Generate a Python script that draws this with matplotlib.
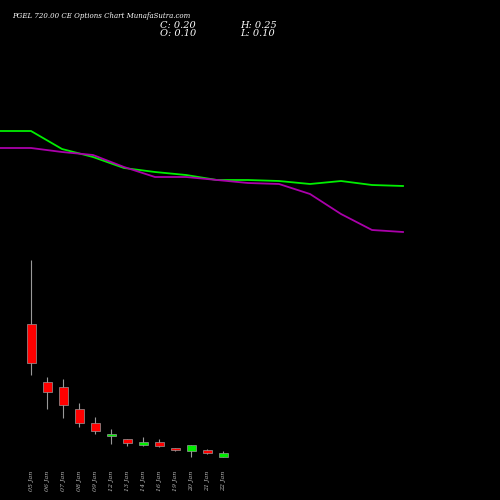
import matplotlib
matplotlib.use("Agg")
import matplotlib.pyplot as plt
from matplotlib.patches import Rectangle

dates = ["05 Jan", "06 Jan", "07 Jan", "08 Jan", "09 Jan", "12 Jan", "13 Jan",
         "14 Jan", "16 Jan", "19 Jan", "20 Jan", "21 Jan", "22 Jan"]
opens = [3.43, 1.98, 1.85, 1.30, 0.95, 0.62, 0.55, 0.40, 0.48, 0.33, 0.25, 0.28, 0.10]
closes = [2.45, 1.73, 1.40, 0.95, 0.75, 0.68, 0.45, 0.48, 0.38, 0.28, 0.40, 0.20, 0.20]
highs = [5.03, 2.10, 2.05, 1.45, 1.10, 0.80, 0.55, 0.60, 0.55, 0.33, 0.40, 0.30, 0.25]
lows = [2.15, 1.30, 1.08, 0.85, 0.68, 0.42, 0.38, 0.38, 0.35, 0.25, 0.10, 0.18, 0.10]

# upper panel lines (relative scale)
green_line = [169, 169, 151, 143, 132, 128, 125, 120, 120, 119, 116, 119, 115, 114]
magenta_line = [152, 152, 148, 145, 133, 123, 123, 120, 117, 116, 106, 86, 70, 68]

fig = plt.figure(figsize=(5, 5), dpi=100, facecolor="black")

ax1 = fig.add_axes([0, 0.5, 1, 0.3])
ax1.set_facecolor("black")
xs = list(range(len(green_line)))
ax1.plot(xs, green_line, color="#00ee00", lw=1.3)
ax1.plot(xs, magenta_line, color="#aa00aa", lw=1.3)
ax1.set_xlim(0, 500 / 31)
ax1.set_ylim(50, 200)
ax1.axis("off")

ax2 = fig.add_axes([0, 0.08, 1, 0.42])
ax2.set_facecolor("black")
for i, (o, c, h, l) in enumerate(zip(opens, closes, highs, lows)):
    col = "#00ee00" if c >= o else "#ff0000"
    ax2.vlines(i, l, h, color="#999999", lw=0.8, zorder=1)
    ax2.add_patch(Rectangle((i - 0.28, min(o, c)), 0.56, max(abs(c - o), 0.03),
                            facecolor=col, edgecolor="#999999", lw=0.5, zorder=2))
ax2.set_xlim(-1.94, 29.31)
ax2.set_ylim(0.025, 5.275)
ax2.axis("off")

for i, d in enumerate(dates):
    ax2.text(i, -0.25, d, rotation=90, color="#bbbbbb", fontsize=4.5,
             family="serif", style="italic", ha="center", va="top")

fig.text(0.024, 0.968, "PGEL 720.00 CE Options Chart MunafaSutra.com", color="white",
         fontsize=5, family="serif", style="italic", va="center")
fig.text(0.32, 0.95, "C: 0.20", color="white", fontsize=7, family="serif", style="italic", va="center")
fig.text(0.32, 0.933, "O: 0.10", color="white", fontsize=7, family="serif", style="italic", va="center")
fig.text(0.48, 0.95, "H: 0.25", color="white", fontsize=7, family="serif", style="italic", va="center")
fig.text(0.48, 0.933, "L: 0.10", color="white", fontsize=7, family="serif", style="italic", va="center")

fig.savefig("out.png", dpi=100, facecolor="black")
